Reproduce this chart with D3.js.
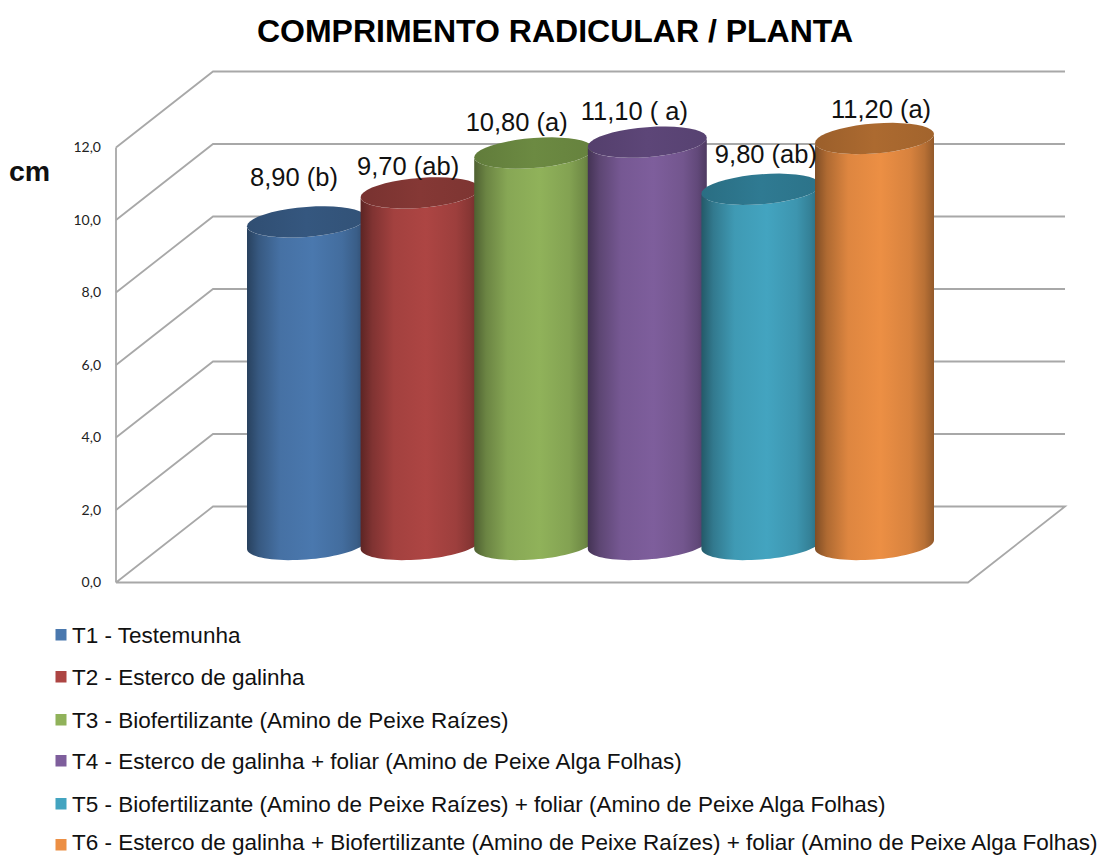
<!DOCTYPE html>
<html><head><meta charset="utf-8">
<script src="https://cdnjs.cloudflare.com/ajax/libs/d3/7.8.5/d3.min.js"></script>
<style>html,body{margin:0;padding:0;background:#fff}svg{display:block}</style></head>
<body><svg id="c" width="1101" height="855"></svg>
<script>
const chartTitle = "COMPRIMENTO RADICULAR / PLANTA";
const unitLabel = "cm";
const treatments = ["T1","T2","T3","T4","T5","T6"];
const legendLabels = [
 "T1 - Testemunha",
 "T2 - Esterco de galinha",
 "T3 - Biofertilizante (Amino de Peixe Raízes)",
 "T4 - Esterco de galinha + foliar (Amino de Peixe Alga Folhas)",
 "T5 - Biofertilizante (Amino de Peixe Raízes) + foliar (Amino de Peixe Alga Folhas)",
 "T6 - Esterco de galinha + Biofertilizante (Amino de Peixe Raízes) + foliar (Amino de Peixe Alga Folhas)"
];
const values = [8.9, 9.7, 10.8, 11.1, 9.8, 11.2];
const valueLabels = ["8,90 (b)","9,70 (ab)","10,80 (a)","11,10 ( a)","9,80 (ab)","11,20 (a)"];
const tickValues = [0,2,4,6,8,10,12];
const bodyColors = ["#4a78ae","#ad4543","#90b25a","#7e5e9c","#43a4c0","#ec8f44"];
const topColors  = ["#35577f","#853835","#6c8a42","#5d4678","#2f7a92","#ac6a30"];

const svg = d3.select("#c");
const font = "'Liberation Sans', Arial, sans-serif";
const depthX = 97, depthY = 76;
const y = d3.scaleLinear().domain([0,12]).range([582.5,147.5]);
const x = d3.scaleBand().domain(treatments).range([116,968]).paddingInner(0).paddingOuter(0.75);
const rx = 59.5, tiltY = 4.4, ry = 15;

const grid = svg.append("g").attr("fill","none").attr("stroke","#a8a8a8").attr("stroke-width",1.8);
tickValues.forEach(v=>{
  const pts = [[116,y(v)],[116+depthX,y(v)-depthY],[116+depthX+852,y(v)-depthY]];
  if(v===0) pts.push([116+852,y(0)],[116,y(0)]);
  grid.append("path").attr("d",d3.line()(pts));
});
grid.append("line").attr("x1",116).attr("x2",116).attr("y1",y(0)).attr("y2",y(12));

svg.append("g").selectAll("text").data(tickValues).join("text")
  .attr("x",101).attr("y",d=>y(d)+4.5).attr("text-anchor","end")
  .attr("font-family","Lato, 'Open Sans', sans-serif").attr("font-size",14).attr("fill","#222")
  .text(d=>d3.format(".1f")(d).replace(".",","));

const defs = svg.append("defs");
const shade = (c,k)=>d3.interpolateRgb(c,"#000")(k);
bodyColors.forEach((c,i)=>{
  const g = defs.append("linearGradient").attr("id","g"+i);
  [[0,shade(c,.46)],[.1,shade(c,.26)],[.28,shade(c,.06)],[.55,c],[.8,shade(c,.09)],[.92,shade(c,.22)],[1,shade(c,.38)]]
    .forEach(s=>g.append("stop").attr("offset",s[0]).attr("stop-color",s[1]));
  const t = defs.append("linearGradient").attr("id","t"+i);
  [[0,shade(topColors[i],.1)],[.5,topColors[i]],[1,shade(topColors[i],.06)]]
    .forEach(s=>t.append("stop").attr("offset",s[0]).attr("stop-color",s[1]));
});

const arc = (cx,cy,a0,a1)=>d3.range(0,41).map(k=>{
  const t = a0+(a1-a0)*k/40;
  return [cx+rx*Math.cos(t), cy-tiltY*Math.cos(t)+ry*Math.sin(t)];
});
const line = d3.line();
const cyl = svg.append("g").selectAll("g").data(treatments).join("g");
cyl.each(function(d,i){
  const g = d3.select(this);
  const cx = x(d)+x.bandwidth()/2+depthX/2;
  const base = y(0)-depthY/2, top = y(values[i])-depthY/2;
  const body = arc(cx,base,0,Math.PI).concat(arc(cx,top,Math.PI,0));
  g.append("path").attr("d",line(body)+"Z").attr("fill",`url(#g${i})`);
  g.append("path").attr("d",line(arc(cx,top,0,2*Math.PI))+"Z").attr("fill",`url(#t${i})`);
});

const labelPlace = [[-12.5,-35.5],[-12,-17.5],[-17,-22],[-13,-22.5],[5,-26],[6.5,-20.5]];
svg.append("g").selectAll("text").data(treatments).join("text")
  .attr("x",(d,i)=>x(d)+x.bandwidth()/2+depthX/2+labelPlace[i][0])
  .attr("y",(d,i)=>y(values[i])-depthY/2+labelPlace[i][1])
  .attr("text-anchor","middle").attr("font-family",font).attr("font-size",25.5).attr("fill","#111")
  .text((d,i)=>valueLabels[i]);

svg.append("text").attr("x",555).attr("y",42).attr("text-anchor","middle")
  .attr("font-family",font).attr("font-weight","bold").attr("font-size",32).attr("fill","#000").text(chartTitle);
svg.append("text").attr("x",9).attr("y",181)
  .attr("font-family",font).attr("font-weight","bold").attr("font-size",28.5).attr("fill","#111").text(unitLabel);

const rowCentres = [635,677,720,761,804,845];
const leg = svg.append("g").selectAll("g").data(treatments).join("g")
  .attr("transform",(d,i)=>`translate(0,${rowCentres[i]})`);
leg.append("rect").attr("x",55.5).attr("y",-6).attr("width",11).attr("height",11.5)
  .attr("fill",(d,i)=>bodyColors[i]);
leg.append("text").attr("x",72).attr("y",(d,i)=>Math.min(7.5,849.5-rowCentres[i])).attr("font-family",font).attr("font-size",22.5)
  .attr("fill","#111").text((d,i)=>legendLabels[i]);
</script></body></html>
